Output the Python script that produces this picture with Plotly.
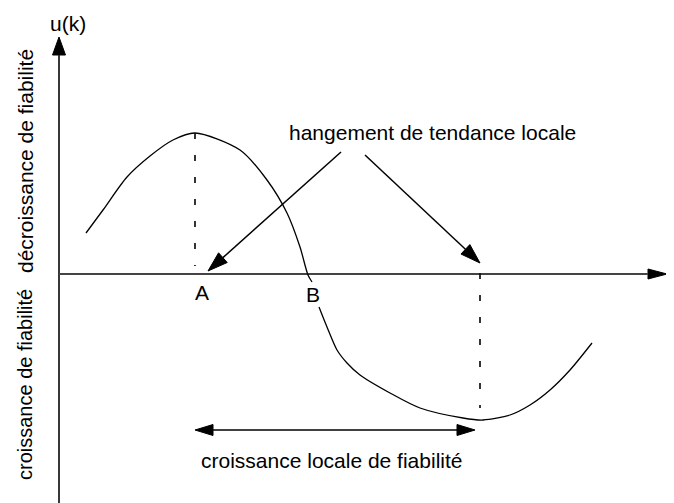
import math
import plotly.graph_objects as go

# curve u(k), two pieces (broken around the "B" label)
k_rise = [27, 44, 68, 91, 114, 136, 181, 208, 228, 241, 249, 253]
u_rise = [41, 64, 97, 118, 134, 141, 124, 94, 61, 27, -1, -8]
k_fall = [260, 268, 278, 288, 301, 331, 361, 404, 424, 451, 471, 491, 511, 533]
u_fall = [-33, -53, -76, -89, -101, -119, -134, -144, -146, -141, -131, -116, -96, -69]

# turning points (dashed guides)
k_max, u_max = 136, 141
k_min, u_min = 421, -134

# axes extent
k_end, u_top, u_bottom = 608, 237, -237

# arrows: (start k, start u, tip k, tip u)
pointer_a = (282, 122, 149, 3)
pointer_b = (306, 119, 421, 11)
span_u, span_k0, span_k1 = -156, 136, 416

FONT = "Liberation Sans, Arial, sans-serif"

fig = go.Figure()


def head(tip_k, tip_u, from_k, from_u, length=18, half=6):
    dk, du = tip_k - from_k, tip_u - from_u
    n = math.hypot(dk, du)
    dk, du = dk / n, du / n
    bk, bu = tip_k - dk * length, tip_u - du * length
    pk, pu = -du * half, dk * half
    fig.add_trace(go.Scatter(
        x=[tip_k, bk + pk, bk - pk, tip_k], y=[tip_u, bu + pu, bu - pu, tip_u],
        mode="lines", fill="toself", fillcolor="black",
        line=dict(color="black", width=1), showlegend=False, hoverinfo="skip"
    ))
    return bk, bu


def line(ks, us, color="black", width=1.5, dash=None, shape="linear"):
    fig.add_trace(go.Scatter(
        x=ks, y=us, mode="lines",
        line=dict(color=color, width=width, dash=dash, shape=shape, smoothing=0.8),
        showlegend=False, hoverinfo="skip"
    ))


# axes
bk, bu = head(0, u_top, 0, u_bottom, length=18, half=6.5)
line([0, 0], [u_bottom, bu], color="#222", width=1.8)
bk, bu = head(k_end, 0, 0, 0, length=19, half=5)
line([0, bk], [0, 0], color="#444", width=2)

# curve
line(k_rise, u_rise, width=1.3, shape="spline")
line(k_fall, u_fall, width=1.3, shape="spline")

# dashed guides
line([k_max, k_max], [u_max, 8], color="#111", width=1.7, dash="6px,16px")
line([k_min, k_min], [1, u_min], color="#111", width=1.7, dash="6px,16px")

# pointers
for k0, u0, k1, u1 in (pointer_a, pointer_b):
    bk, bu = head(k1, u1, k0, u0, length=20, half=6.5)
    line([k0, bk], [u0, bu], width=1.5)

# double arrow
b0, _ = head(span_k0, span_u, span_k1, span_u, length=18, half=5.5)
b1, _ = head(span_k1, span_u, span_k0, span_u, length=18, half=5.5)
line([b0, b1], [span_u, span_u], width=1.5)

labels = [
    ("u(k)", 9, 251, "center", 0, 21),
    ("k", 606, 13, "left", 0, 21),
    ("A", 143, -18, "center", 0, 21),
    ("B", 254, -20, "center", 0, 21),
    ("hangement de tendance locale", 373, 142, "center", 0, 21),
    ("croissance locale de fiabilité", 272, -186, "center", 0, 21),
    ("décroissance de fiabilité", -34, 113, "center", -90, 21),
    ("croissance de fiabilité", -34, -111, "center", -90, 20),
]
for text, k, u, anchor, angle, size in labels:
    fig.add_annotation(x=k, y=u, text=text, showarrow=False, xanchor=anchor,
                       yanchor="middle", textangle=angle,
                       font=dict(family=FONT, size=size, color="black"))

# page body adds an 8px offset, so the ranges are shifted to compensate
fig.update_layout(
    width=674, height=503,
    margin=dict(l=0, r=0, t=0, b=0),
    paper_bgcolor="white", plot_bgcolor="white",
    xaxis=dict(range=[-51, 623], visible=False, fixedrange=True),
    yaxis=dict(range=[-237, 266], visible=False, fixedrange=True),
    showlegend=False,
)

fig.write_html("out.html")
